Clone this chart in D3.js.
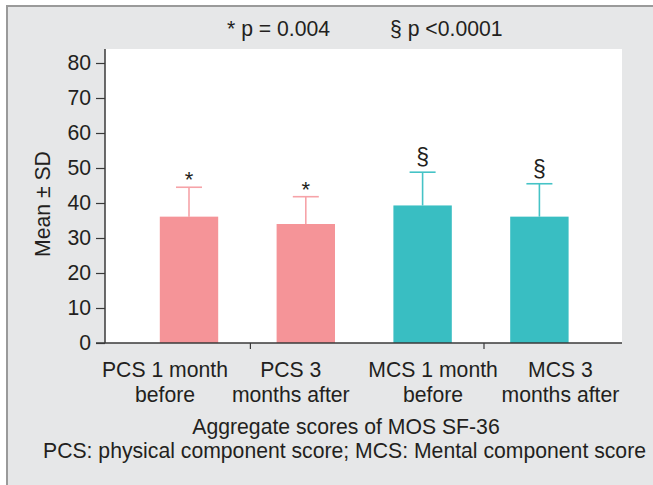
<!DOCTYPE html>
<html>
<head>
<meta charset="utf-8">
<script src="https://cdn.jsdelivr.net/npm/d3@7"></script>
<style>
  html, body { margin: 0; padding: 0; background: #ffffff; }
  svg { display: block; }
  text { font-family: "Liberation Sans", Arial, sans-serif; fill: #231f20; }
</style>
</head>
<body>
<svg id="chart" width="653" height="485"></svg>
<script>
// Aggregate MOS SF-36 scores, mean and SD per time point
const categories = [
  ["PCS 1 month", "before"],
  ["PCS 3", "months after"],
  ["MCS 1 month", "before"],
  ["MCS 3", "months after"]
];
const means = [36.1, 34.0, 39.3, 36.1];
const sds = [8.4, 7.8, 9.5, 9.4];
const groups = ["PCS", "PCS", "MCS", "MCS"];
const markers = ["*", "*", "§", "§"];
const yTicks = [0, 10, 20, 30, 40, 50, 60, 70, 80];
const titleParts = ["* p = 0.004", "§ p <0.0001"];
const xTitle = "Aggregate scores of MOS SF-36";
const footnote = "PCS: physical component score; MCS: Mental component score";

const fills = { PCS: "#f59498", MCS: "#39bec2" };
const whiskers = { PCS: "#f6a3a8", MCS: "#45c3c6" };
const FS = 21.2;

const svg = d3.select("#chart");
const W = 653, H = 485;

// panel with a border on its top and left edges
svg.append("rect").attr("x", 6).attr("y", 5).attr("width", W - 6).attr("height", H - 5)
  .attr("fill", "#e6e7e8");
svg.append("line").attr("x1", 7).attr("x2", W).attr("y1", 6).attr("y2", 6)
  .attr("stroke", "#9a9a9a").attr("stroke-width", 2);
svg.append("line").attr("x1", 7).attr("x2", 7).attr("y1", 5).attr("y2", H)
  .attr("stroke", "#9a9a9a").attr("stroke-width", 2);

const plot = { left: 105, right: 622, top: 49, bottom: 343 };

const y = d3.scaleLinear().domain([0, 84]).range([plot.bottom, plot.top]);
const x = d3.scaleBand().domain(d3.range(categories.length))
  .range([130.6, 597.8]).paddingInner(0.5).paddingOuter(0.25);

// white plotting area
svg.append("rect").attr("x", plot.left).attr("y", plot.top)
  .attr("width", plot.right - plot.left).attr("height", plot.bottom - plot.top)
  .attr("fill", "#ffffff");

// title line
const titleX = [227, 390];
svg.selectAll("text.title").data(titleParts).join("text")
  .attr("class", "title")
  .attr("x", (d, i) => titleX[i]).attr("y", 36)
  .attr("font-size", FS)
  .text(d => d);

// error bars
const capW = 26;
const eb = svg.append("g");
means.forEach((m, i) => {
  const cx = x(i) + x.bandwidth() / 2;
  const col = whiskers[groups[i]];
  eb.append("line").attr("x1", cx).attr("x2", cx)
    .attr("y1", y(m)).attr("y2", y(m + sds[i]))
    .attr("stroke", col).attr("stroke-width", 1.6);
  eb.append("line").attr("x1", cx - capW / 2).attr("x2", cx + capW / 2)
    .attr("y1", y(m + sds[i])).attr("y2", y(m + sds[i]))
    .attr("stroke", col).attr("stroke-width", 1.6);
});

// bars
svg.append("g").selectAll("rect").data(means).join("rect")
  .attr("x", (d, i) => x(i))
  .attr("y", d => y(d))
  .attr("width", x.bandwidth())
  .attr("height", d => y(0) - y(d))
  .attr("fill", (d, i) => fills[groups[i]]);

// significance markers above the caps
svg.append("g").selectAll("text").data(means).join("text")
  .attr("x", (d, i) => x(i) + x.bandwidth() / 2)
  .attr("y", (d, i) => y(d + sds[i]) - (markers[i] === "*" ? 0 : 7))
  .attr("text-anchor", "middle")
  .attr("font-size", (d, i) => markers[i] === "*" ? 22 : 23)
  .text((d, i) => markers[i]);

// y axis
const yAxis = d3.axisLeft(y).tickValues(yTicks).tickSize(9).tickPadding(5);
const gy = svg.append("g").attr("transform", `translate(${plot.left},0)`).call(yAxis);
gy.select(".domain").attr("d", `M0,${plot.top}V${plot.bottom}`).attr("stroke", "#3a3a3a").attr("stroke-width", 1.5);
gy.selectAll(".tick line").attr("stroke", "#3a3a3a").attr("stroke-width", 1.2);
gy.selectAll(".tick text").attr("font-size", FS).attr("fill", "#231f20")
  .attr("font-family", "Liberation Sans, Arial, sans-serif");

// x axis baseline with dividers between pairs
svg.append("line").attr("x1", plot.left - 9).attr("x2", plot.right)
  .attr("y1", plot.bottom).attr("y2", plot.bottom)
  .attr("stroke", "#3a3a3a").attr("stroke-width", 1.5);
[0, 2].forEach(i => {
  const dx = (x(i) + x.bandwidth() + x(i + 1)) / 2 + 3;
  svg.append("line").attr("x1", dx).attr("x2", dx)
    .attr("y1", plot.bottom).attr("y2", plot.bottom + 6)
    .attr("stroke", "#3a3a3a").attr("stroke-width", 1.2);
});

// category labels, two lines each
const labelShift = [-24, -15, 10.5, 21];
const cl = svg.append("g");
categories.forEach((lines, i) => {
  const cx = x(i) + x.bandwidth() / 2 + labelShift[i];
  lines.forEach((t, j) => {
    cl.append("text").attr("x", cx).attr("y", 377 + j * 25)
      .attr("text-anchor", "middle").attr("font-size", FS).text(t);
  });
});

// y axis title
svg.append("text")
  .attr("transform", `translate(50,${(y(84) + y(0)) / 2 + 8}) rotate(-90)`)
  .attr("text-anchor", "middle").attr("font-size", FS)
  .text("Mean ± SD");

// x axis title and footnote
svg.append("text").attr("x", 346).attr("y", 434).attr("text-anchor", "middle")
  .attr("font-size", FS).text(xTitle);
svg.append("text").attr("x", 344.5).attr("y", 458).attr("text-anchor", "middle")
  .attr("font-size", FS).text(footnote);
</script>
</body>
</html>
